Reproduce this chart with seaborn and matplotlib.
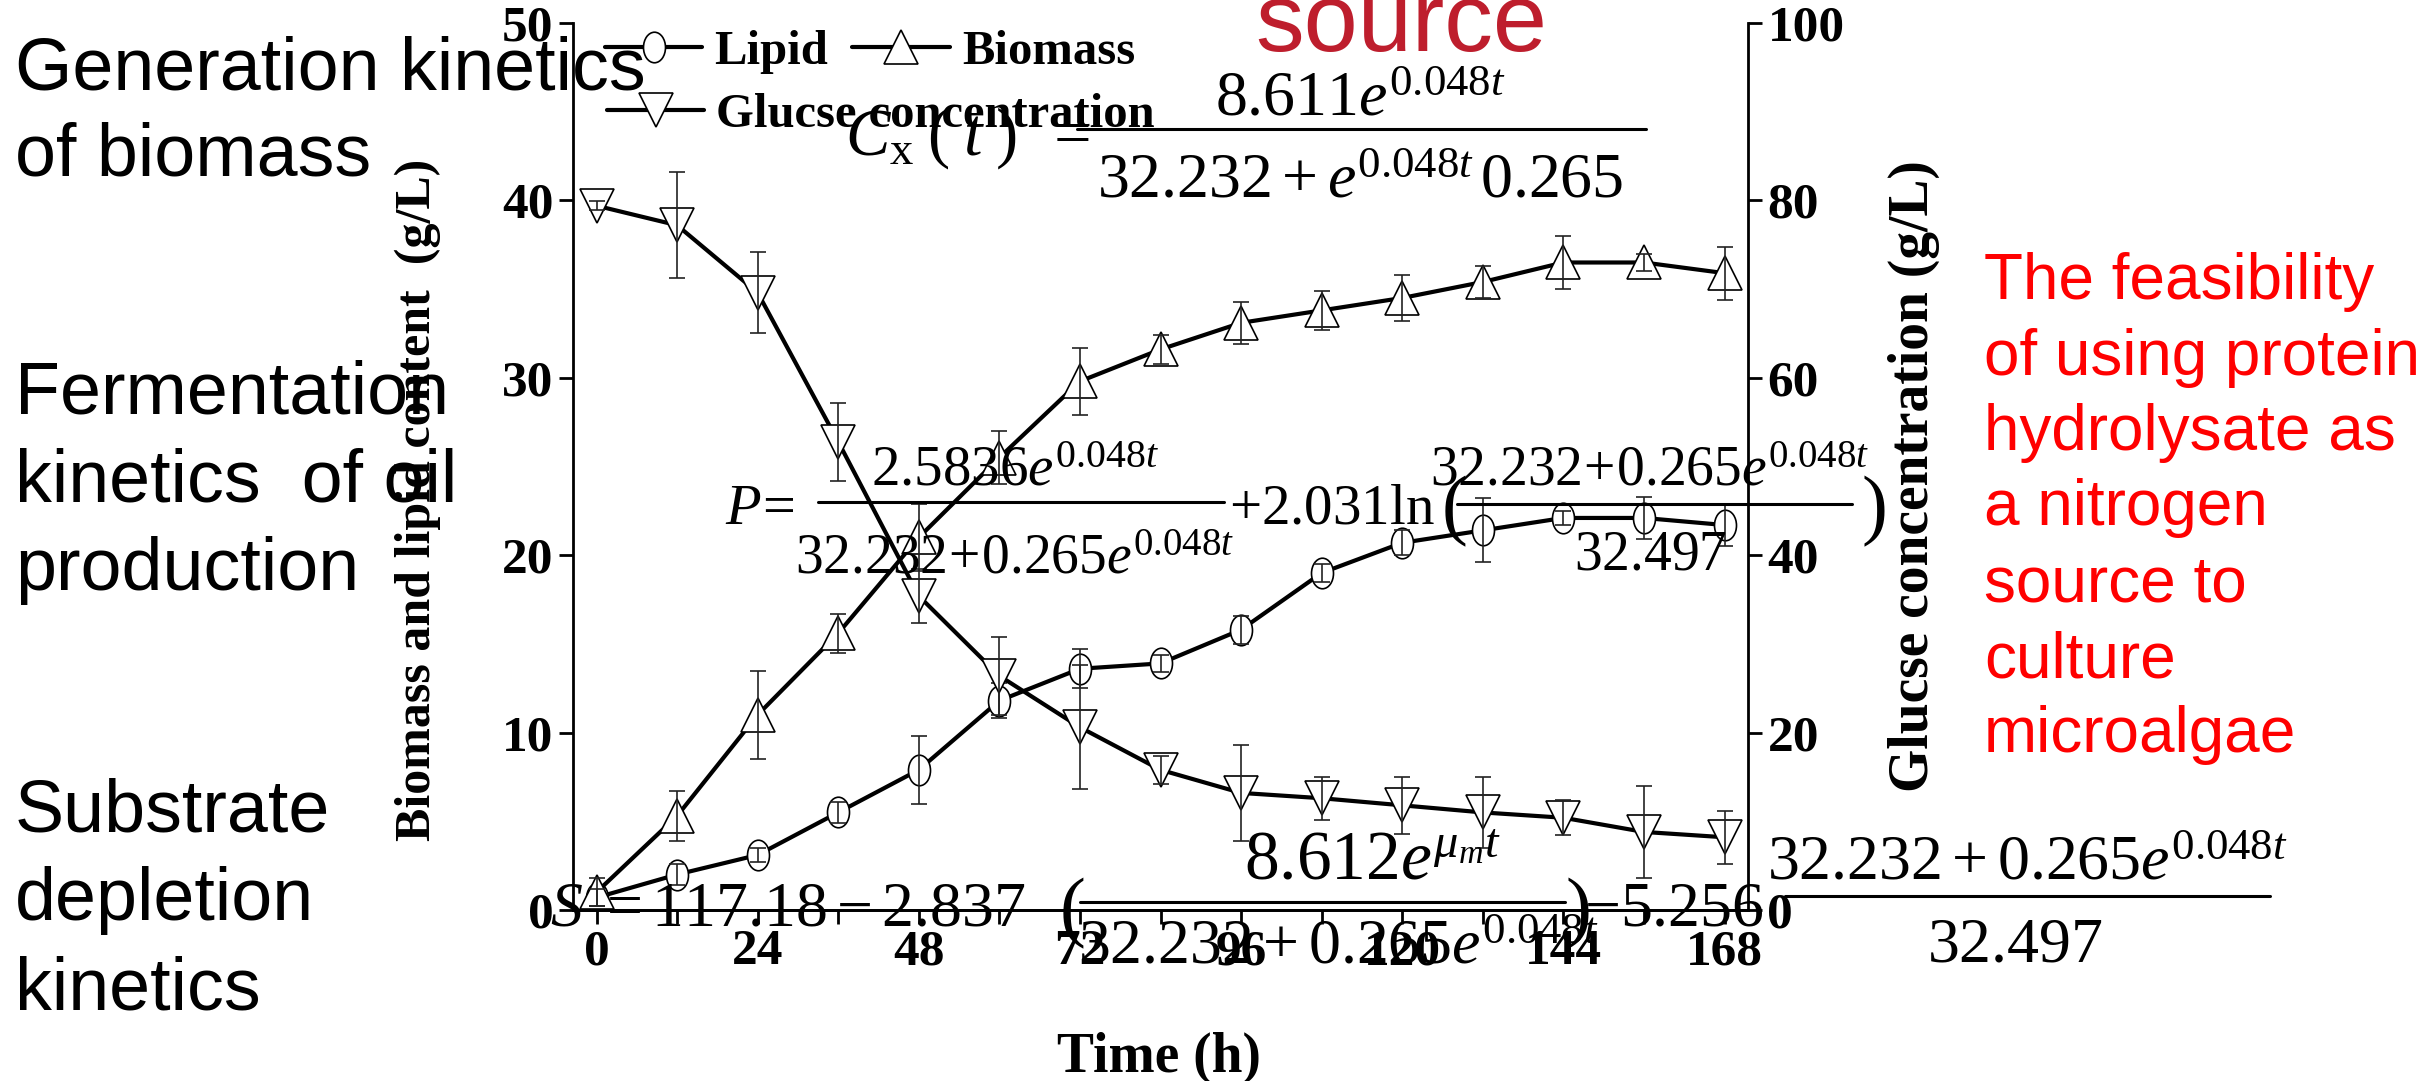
import matplotlib
matplotlib.use('Agg')
import matplotlib.pyplot as plt
import seaborn as sns
from matplotlib.path import Path
from matplotlib.lines import Line2D

# ---------------- data ----------------
time_h = [0, 12, 24, 36, 48, 60, 72, 84, 96, 108, 120, 132, 144, 156, 168]
lipid = [0.7, 2.0, 3.1, 5.5, 7.9, 11.8, 13.6, 13.9, 15.8, 19.0, 20.7, 21.4, 22.1, 22.1, 21.7]
lipid_err = [0.5, 0.6, 0.4, 0.6, 1.9, 1.0, 1.1, 0.5, 0.8, 0.5, 0.7, 1.8, 0.4, 1.2, 1.2]
biomass = [1.0, 5.3, 11.0, 15.6, 21.0, 25.5, 29.8, 31.6, 33.1, 33.8, 34.5, 35.4, 36.5, 36.5, 35.9]
biomass_err = [0.8, 1.4, 2.5, 1.1, 1.9, 1.5, 1.9, 0.8, 1.2, 1.1, 1.3, 0.9, 1.5, 0.5, 1.5]
glucose = [79.4, 77.2, 69.6, 52.8, 35.4, 26.4, 20.6, 15.8, 13.2, 12.6, 11.8, 11.0, 10.4, 8.8, 8.2]
glucose_err = [0.5, 6.0, 4.6, 4.4, 3.0, 4.4, 7.0, 1.6, 5.4, 2.4, 3.2, 4.0, 2.0, 5.2, 3.0]

x_major = [0, 24, 48, 72, 96, 120, 144, 168]
x_minor = [12, 36, 60, 84, 108, 132, 156]
y_left_ticks = [0, 10, 20, 30, 40, 50]
y_right_ticks = [0, 20, 40, 60, 80, 100]
series_labels = ['Lipid', 'Biomass', 'Glucse concentration']

# ---------------- style ----------------
sns.set_style('ticks')
plt.rcParams['font.family'] = ['Liberation Serif', 'DejaVu Serif']
plt.rcParams['mathtext.fontset'] = 'custom'
plt.rcParams['mathtext.rm'] = 'Liberation Serif'
plt.rcParams['mathtext.it'] = 'Liberation Serif:italic'
plt.rcParams['mathtext.bf'] = 'Liberation Serif:bold'
plt.rcParams['axes.edgecolor'] = 'black'
plt.rcParams['xtick.color'] = 'black'
plt.rcParams['ytick.color'] = 'black'
plt.rcParams['text.color'] = 'black'

W, H = 2430, 1081
fig = plt.figure(figsize=(W / 100, H / 100), dpi=100)


def fx(px):
    return px / W


def fy(py):
    return 1 - py / H


ax = fig.add_axes([fx(573), fy(910), fx(1748) - fx(573), fy(23) - fy(910)])
ax2 = ax.twinx()

circ = Path.unit_circle()
ellipse = Path(circ.vertices * [0.72, 1.0], circ.codes)

line_kw = dict(color='black', lw=3.0, markerfacecolor='white', markeredgecolor='black',
               markeredgewidth=1.2)
err_kw = dict(fmt='none', ecolor='#222222', elinewidth=1.2, capsize=6, capthick=1.2)

sns.lineplot(x=time_h, y=lipid, ax=ax, marker=ellipse, markersize=22, zorder=3, **line_kw)
ax.errorbar(time_h, lipid, yerr=lipid_err, zorder=4, **err_kw)
sns.lineplot(x=time_h, y=biomass, ax=ax, marker='^', markersize=25, zorder=3, **line_kw)
ax.errorbar(time_h, biomass, yerr=biomass_err, zorder=4, **err_kw)
sns.lineplot(x=time_h, y=glucose, ax=ax2, marker='v', markersize=25, zorder=3, **line_kw)
ax2.errorbar(time_h, glucose, yerr=glucose_err, zorder=4, **err_kw)

ax.set_xlim(-3.5, 171.5)
ax.set_ylim(0, 50)
ax2.set_ylim(0, 100)
ax.set_xticks(x_major)
ax.set_xticks(x_minor, minor=True)
ax.set_yticks(y_left_ticks)
ax2.set_yticks(y_right_ticks)

for a in (ax, ax2):
    a.spines['top'].set_visible(False)
    for s in a.spines.values():
        s.set_linewidth(2.0)
    a.tick_params(which='both', direction='out', length=10, width=2, labelsize=37, pad=4)
    a.set_xlabel('')
    a.set_ylabel('')
ax.spines['right'].set_visible(False)
ax2.spines['left'].set_visible(False)

for lbl in ax.get_xticklabels() + ax.get_yticklabels() + ax2.get_yticklabels():
    lbl.set_fontweight('bold')
    lbl.set_family('Liberation Serif')

# axis labels
fig.text(fx(418), fy(500), 'Biomass and lipid content  (g/L)', rotation=90, ha='center',
         va='center', fontsize=36, fontweight='bold')
fig.text(fx(1914), fy(476), 'Glucse concentration (g/L)', rotation=90, ha='center',
         va='center', fontsize=40, fontweight='bold')
fig.text(fx(1159), fy(1072), 'Time (h)', ha='center', va='baseline', fontsize=40,
         fontweight='bold')

# legend
h_lip = Line2D([], [], marker=ellipse, markersize=22, **line_kw)
h_bio = Line2D([], [], marker='^', markersize=25, **line_kw)
h_glu = Line2D([], [], marker='v', markersize=25, **line_kw)
leg_prop = dict(family='Liberation Serif', weight='bold', size=35)
leg_common = dict(loc='upper left', frameon=False, prop=leg_prop, handlelength=2.0,
                  handletextpad=0.25, columnspacing=0.5, borderpad=0, borderaxespad=0)
fig.legend([h_lip, h_bio], series_labels[:2], ncol=2, bbox_to_anchor=(fx(605), fy(30)),
           **leg_common)
fig.legend([h_glu], series_labels[2:], ncol=1, bbox_to_anchor=(fx(607), fy(93)),
           **leg_common)


def bar(x0, x1, y, lw=2.2):
    fig.add_artist(Line2D([fx(x0), fx(x1)], [fy(y), fy(y)], color='black', lw=lw,
                          transform=fig.transFigure))


def mtext(x, y, s, size, ha='center'):
    fig.text(fx(x), fy(y), s, fontsize=size, ha=ha, va='baseline')


# C_x(t) equation
mtext(845, 155, r'$C_{\mathrm{x}}\;(\;t\;)\;\;=$', 48, ha='left')
bar(1077, 1646, 129)
mtext(1360, 116, r'$8.611e^{0.048t}$', 46)
mtext(1360, 198, r'$32.232+e^{0.048t}\,0.265$', 46)

# P equation
mtext(725, 524, r'$P\!=$', 42, ha='left')
bar(818, 1224, 502)
mtext(1015, 485, r'$2.5836e^{0.048t}$', 41)
mtext(1015, 573, r'$32.232\!+\!0.265e^{0.048t}$', 40)
mtext(1229, 524, r'$+2.031\ln$', 41, ha='left')
mtext(1442, 530, '(', 56, ha='left')
bar(1457, 1852, 504)
mtext(1650, 485, r'$32.232\!+\!0.265e^{0.048t}$', 40)
mtext(1650, 570, r'$32.497$', 40)
mtext(1862, 530, ')', 56, ha='left')

# S equation
mtext(550, 925, r'$S\ =117.18-2.837$', 46, ha='left')
mtext(1060, 932, '(', 56, ha='left')
bar(1080, 1565, 902)
mtext(1372, 880, r'$8.612e^{\mu_{m}t}$', 50)
mtext(1338, 964, r'$32.232+0.265e^{0.048t}$', 46)
mtext(1566, 932, ')', 56, ha='left')
mtext(1584, 925, r'$-5.256$', 46, ha='left')
bar(1785, 2270, 896)
mtext(2027, 879, r'$32.232+0.265e^{0.048t}$', 46)
mtext(2015, 961, r'$32.497$', 46)

# annotation texts (sans)
sans = ['Liberation Sans', 'DejaVu Sans']
left_notes = [('Generation kinetics', 90), ('of biomass', 175),
              ('Fermentation', 414), ('kinetics  of oil', 502), ('production', 590),
              ('Substrate', 832), ('depletion', 920), ('kinetics', 1009)]
for s, yb in left_notes:
    fig.text(fx(15), fy(yb), s, family=sans, fontsize=53, ha='left', va='baseline')

fig.text(fx(1401), fy(51), 'source', family=sans, fontsize=70, color='#BE1E2D',
         ha='center', va='baseline')

red_lines = ['The feasibility', 'of using protein', 'hydrolysate as', 'a nitrogen',
             'source to', 'culture', 'microalgae']
red_base = [299, 375, 450, 525, 601, 677, 752]
for s, yb in zip(red_lines, red_base):
    fig.text(fx(1984), fy(yb), s, family=sans, fontsize=46, color='#FF0000',
             ha='left', va='baseline')

fig.savefig('out.png', dpi=100)
